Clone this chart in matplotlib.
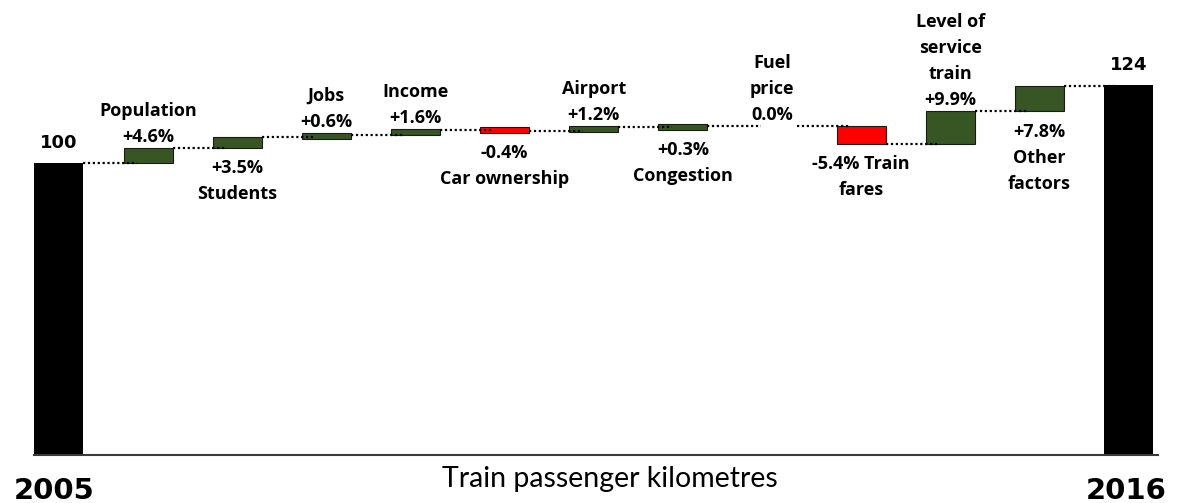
import numpy as np
import matplotlib
matplotlib.use("Agg")
import matplotlib.pyplot as plt

# ---- data ----
start_year = "2005"
end_year = "2016"
start_value = 100
end_value = 124
factors = ["Population", "Students", "Jobs", "Income", "Car ownership", "Airport",
           "Congestion", "Fuel price", "Train fares", "Level of service train", "Other factors"]
changes = [4.6, 3.5, 0.6, 1.6, -0.4, 1.2, 0.3, 0.0, -5.4, 9.9, 7.8]
factor_labels = ["Population\n+4.6%", "+3.5%\nStudents", "Jobs\n+0.6%", "Income\n+1.6%",
                 "-0.4%\nCar ownership", "Airport\n+1.2%", "+0.3%\nCongestion",
                 "Fuel\nprice\n0.0%", "-5.4% Train\nfares", "Level of\nservice\ntrain\n+9.9%",
                 "+7.8%\nOther\nfactors"]
label_side = ["above", "below", "above", "above", "below", "above", "below",
              "above", "below", "above", "below"]
axis_title = "Train passenger kilometres"

# ---- style ----
GREEN = "#375623"
RED = "#FF0000"
BLACK = "#000000"
W = 0.55
MIN_H = 1.8  # minimum drawn thickness of a change bar (display only)
label_font = ["Open Sans", "DejaVu Sans"]
LFS = 13

fig = plt.figure(figsize=(11.83, 5.03), dpi=100)
ax = fig.add_axes([34 / 1183, 48 / 503, 1124 / 1183, 455 / 503])

n = len(changes)
xs = np.arange(n + 2)

# totals
ax.bar(xs[0], start_value, width=W, color=BLACK, zorder=2)
ax.bar(xs[-1], end_value, width=W, color=BLACK, zorder=2)

cum = start_value
levels = [start_value]
for i, ch in enumerate(changes):
    x = xs[i + 1]
    col = GREEN if ch >= 0 else RED
    if ch != 0:
        h = max(abs(ch), MIN_H)
        mid = cum + ch / 2
        ax.bar(x, h, bottom=mid - h / 2, width=W, color=col, edgecolor="#1a1a1a",
               linewidth=0.8, zorder=2)
        lo, hi = mid - h / 2, mid + h / 2
    else:
        lo, hi = cum, cum
    if label_side[i] == "above":
        ax.annotate(factor_labels[i], (x, hi), xytext=(0, 1.5), textcoords="offset points",
                    ha="center", va="bottom", fontsize=LFS, fontweight="bold",
                    family=label_font, linespacing=1.58, zorder=4)
    else:
        ax.annotate(factor_labels[i], (x, lo), xytext=(0, -8), textcoords="offset points",
                    ha="center", va="top", fontsize=LFS, fontweight="bold",
                    family=label_font, linespacing=1.58, zorder=4)
    cum = cum + ch
    levels.append(cum)

# connectors
for i in range(len(levels)):
    x0 = xs[i] + W / 2
    x1 = xs[i + 1] - W / 2 + 0.15
    ax.plot([x0, x1], [levels[i], levels[i]], linestyle=(0, (1, 1.2)),
            color="black", linewidth=1.6, zorder=3)

# total value labels
for x, v in [(xs[0], start_value), (xs[-1], end_value)]:
    ax.annotate(f"{v:d}", (x, v), xytext=(0, 8), textcoords="offset points",
                ha="center", va="bottom", fontsize=13, fontweight="bold",
                family="DejaVu Sans")

ax.set_xlim(-0.28, xs[-1] + 0.33)
ax.set_ylim(10.2, 150.2)

for s in ["top", "left", "right"]:
    ax.spines[s].set_visible(False)
ax.spines["bottom"].set_color("#3a3a3a")
ax.spines["bottom"].set_linewidth(1.5)
ax.set_yticks([])
ax.set_xticks([xs[0] - 0.05, xs[-1] - 0.03])
ax.set_xticklabels([start_year, end_year], fontsize=21, fontweight="bold", family="DejaVu Sans")
ax.tick_params(axis="x", length=0, pad=16)

ax.text(0.512, -0.024, axis_title, transform=ax.transAxes, ha="center", va="top",
        fontsize=20.5, family=["Lato", "DejaVu Sans"])

fig.savefig("out.png", dpi=100)
